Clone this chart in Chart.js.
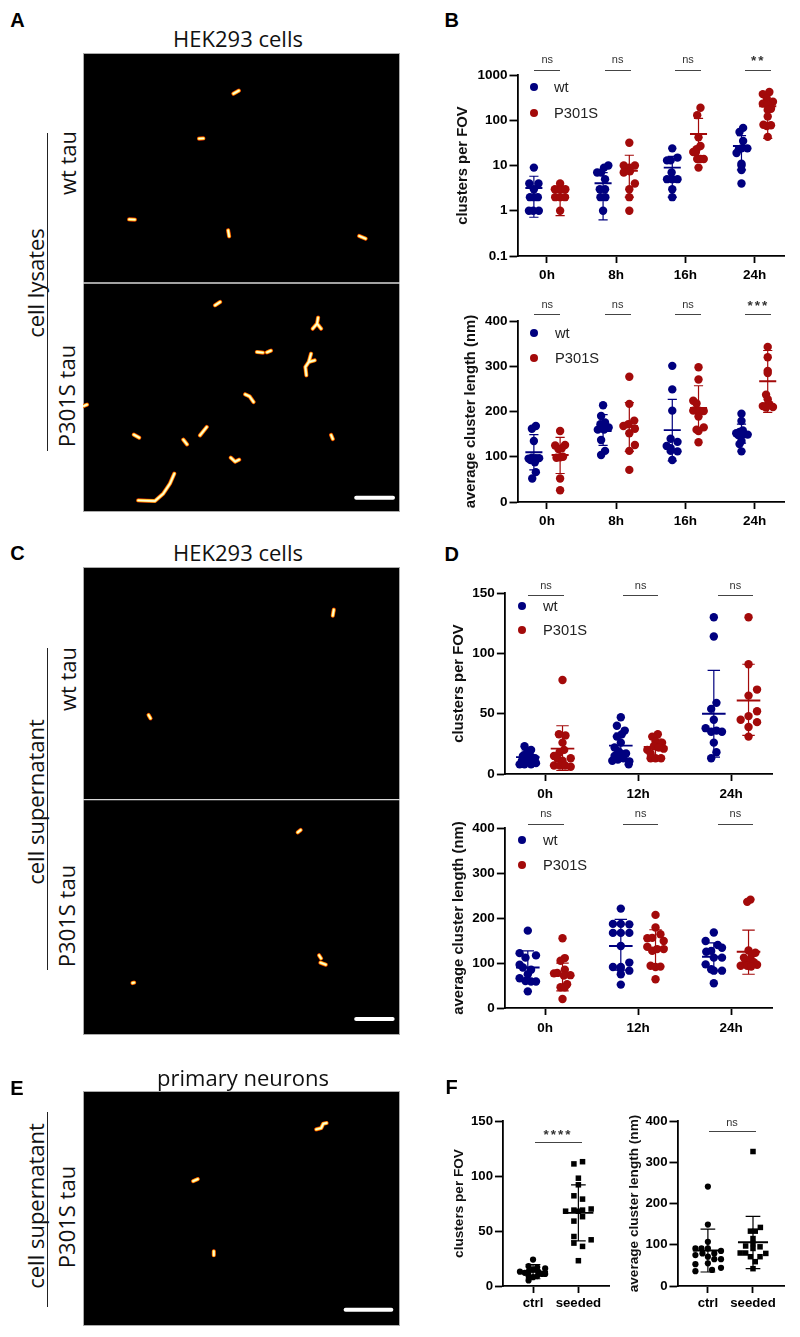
<!DOCTYPE html>
<html><head><meta charset="utf-8">
<script src="https://cdn.jsdelivr.net/npm/chart.js@4"></script>
<style>
html,body{margin:0;padding:0;background:#fff;}
#page{position:relative;width:800px;height:1337px;overflow:hidden;font-family:"Liberation Sans",Arial,sans-serif;}
.abs{position:absolute;white-space:nowrap;}
.c{transform:translate(-50%,-50%);}
.rot{transform:translate(-50%,-50%) rotate(-90deg);}
.cal{font-family:"Open Sans",sans-serif;color:#111;}
.let{font-weight:700;font-size:20px;color:#000;}
.ns{font-size:11px;color:#333;}
.bar{background:#444;height:1px;}
.vl{background:#222;width:1px;}
.leg{font-size:14.7px;color:#222;transform:translateY(-50%);}
.dot{width:8px;height:8px;border-radius:50%;margin:-4px 0 0 -4px;}
canvas{position:absolute;display:block;}
.panel{position:absolute;background:#000;outline:1px solid #aaa;outline-offset:-1px;}
</style></head><body><div id="page"></div>
<script>
// ---------- panel B, clusters per FOV ----------
const bTimes=['0h','8h','16h','24h'];
const b1Ticks=[0.1,1,10,100,1000];
const b1Wt0=[[0,9],[-14,4],[14,4],[0,3],[-12,2],[0,2],[12,2],[-15,1],[-2,1],[15,1]];
const b1Wt8=[[16,10],[3,9],[-18,7],[-6,7],[6,5],[-10,3],[6,3],[-8,2],[7,2],[0,1]];
const b1Wt16=[[0,24],[16,15],[-16,13],[-5,13],[-2,7],[-16,5],[0,5],[16,5],[0,3],[0,2]];
const b1Wt24=[[5,68],[-6,55],[5,35],[0,24],[18,24],[-8,23],[-15,19],[0,11],[0,10],[0,8],[0,4]];
const b1P0=[[0,4],[-16,3],[-5,3],[5,3],[16,3],[-15,2],[0,2],[15,2],[0,1]];
const b1P8=[[0,32],[-17,10],[17,10],[0,9],[-17,7],[2,7.5],[17,4],[0,3],[0,2],[0,1]];
const b1P16=[[6,190],[-4,130],[0,42],[6,27],[-6,23],[-16,20],[-8,20],[-4,14],[6,14],[16,14],[0,9]];
const b1P24=[[5,425],[-15,380],[-3,310],[16,258],[-15,234],[0,215],[10,180],[0,170],[0,122],[-13,80],[-3,75],[10,78],[0,43]];
const b1WtMean=[3.2,4.05,9,27], b1WtHi=[5.8,7,16,46], b1WtLo=[0.72,0.63,2,8];
const b1PMean=[2.1,7.7,50,205], b1PHi=[3,16.9,110,370], b1PLo=[0.78,2,14,40];
const b1Sig=['ns','ns','ns','**'];
// ---------- panel B, average cluster length ----------
const b2Ticks=[0,100,200,300,400];
const b2Wt0=[[6,168],[-6,162],[0,135],[-16,96],[-6,98],[6,97],[16,97],[-10,93],[3,88],[6,66],[-5,52]];
const b2Wt8=[[0,214],[-6,190],[6,176],[-8,172],[17,165],[-16,160],[3,160],[-6,137],[6,113],[-6,104]];
const b2Wt16=[[0,301],[0,249],[0,202],[-5,140],[16,133],[-17,124],[-5,119],[-5,113],[16,112],[0,93]];
const b2Wt24=[[0,195],[0,179],[-6,155],[4,158],[-16,152],[19,149],[-10,148],[8,150],[-6,128],[0,135],[0,112]];
const b2P0=[[0,157],[-15,125],[15,126],[-5,117],[5,119],[-11,98],[9,100],[0,99],[0,52],[0,26]];
const b2P8=[[0,277],[0,217],[15,180],[-3,172],[-18,168],[17,162],[0,152],[17,126],[0,113],[0,71]];
const b2P16=[[0,298],[0,271],[-16,224],[-6,218],[-16,202],[16,201],[2,202],[0,189],[16,165],[0,157],[-6,160],[0,132]];
const b2P24=[[0,343],[0,320],[0,290],[0,285],[-5,237],[0,227],[-5,212],[-15,212],[16,210],[5,216],[-5,209]];
const b2WtMean=[110,157,159,152], b2WtHi=[149,193,227,172], b2WtLo=[71,125,91,130];
const b2PMean=[104,168,208,267], b2PHi=[143,220,257,335], b2PLo=[63,112,160,198];
const b2Sig=['ns','ns','ns','***'];
// ---------- panel D, clusters per FOV ----------
const dTimes=['0h','12h','24h'];
const d1Ticks=[0,50,100,150];
const d1Wt0=[[-10,23],[10,20],[-2,18],[-15,15],[5,16],[-8,14],[12,14],[22,13],[0,13],[-18,11],[16,11],[-25,8],[-10,8],[10,8],[25,9],[2,10]];
const d1Wt12=[[0,47],[-12,40],[12,36],[-12,31],[3,33],[0,26],[-19,22],[16,17],[-19,15],[1,17],[-8,19],[-26,11],[-9,12],[8,13],[26,10.5],[24,8]];
const d1Wt24=[[8,59],[-8,54],[0,45],[-25,38],[-8,35],[8,36],[25,35],[0,26],[8,18],[-8,13],[0,130],[0,114]];
const d1P0=[[0,78],[-11,33],[9,32],[0,26],[5,20],[-9,18],[-26,15],[-16,13],[25,13],[0,11],[-26,7],[-8,7],[8,7],[25,6]];
const d1P12=[[7,33],[-10,31],[0,27],[20,26],[-25,20],[25,21],[-5,23],[10,22],[-15,13],[0,13],[17,13],[-15,17]];
const d1P24=[[0,130],[0,91],[26,70],[0,65],[26,52],[0,48],[-24,45],[26,43],[0,39],[0,31]];
const d1WtMean=[14,23.5,50], d1WtHi=[19,34,86], d1WtLo=[9,13,14];
const d1PMean=[21,22.5,61], d1PHi=[40,29,91], d1PLo=[3,15,32];
const dSig=['ns','ns','ns'];
// ---------- panel D, average cluster length ----------
const d2Ticks=[0,100,200,300,400];
const d2Wt0=[[0,172],[-25,122],[25,117],[-7,112],[-25,96],[-15,90],[10,85],[0,75],[-25,66],[-7,60],[10,59],[25,59],[0,37]];
const d2Wt12=[[0,221],[-24,187],[0,187],[26,186],[-24,167],[0,167],[26,167],[0,138],[26,101],[-24,91],[0,91],[-1,87],[26,83],[0,75],[0,52]];
const d2Wt24=[[0,168],[-25,149],[12,140],[25,134],[-8,127],[-23,125],[0,112],[25,112],[-25,97],[-8,86],[0,83],[25,83],[0,55]];
const d2P0=[[0,155],[7,111],[-6,105],[7,85],[-26,77],[-16,78],[24,73],[4,72],[14,53],[-6,46],[7,46],[0,20]];
const d2P12=[[0,207],[0,179],[15,164],[-25,155],[-10,156],[25,149],[-25,136],[-10,127],[5,131],[25,131],[-15,94],[0,91],[15,92],[0,64]];
const d2P24=[[6,241],[-4,236],[0,128],[21,123],[-24,94],[26,96],[-9,105],[6,108],[16,102],[-14,112],[11,120],[-4,94],[8,92]];
const d2WtMean=[90,138,114], d2WtHi=[127,197,145], d2WtLo=[64,84,83];
const d2PMean=[72,134,125], d2PHi=[100,174,173], d2PLo=[38,91,75];
// ---------- panel F ----------
const fGroups=['ctrl','seeded'];
const f1Ticks=[0,50,100,150];
const f2Ticks=[0,100,200,300,400];
const f1Ctrl=[[0,24],[-14,18],[13,17],[38,16],[0,15],[-41,13],[16,13],[-26,12],[-14,13],[38,11],[28,11],[-14,9],[13,9],[0,8],[-14,5]];
const f1Seed=[[13,113],[-14,111],[0,98],[0,92],[-14,82],[13,79],[40,70],[-14,69],[13,69],[-40,68],[0,68],[13,63],[-14,59],[-14,45],[40,42],[-14,39],[13,36],[0,23]];
const f2Ctrl=[[0,241],[0,149],[0,107],[-39,91],[-20,91],[0,91],[41,85],[20,79],[-39,75],[-17,79],[0,71],[41,65],[20,65],[-39,53],[0,55],[41,44],[13,39],[-39,36]];
const f2Seed=[[0,326],[23,142],[-8,133],[7,133],[0,115],[0,103],[-23,97],[22,95],[0,91],[-40,80],[-23,80],[40,79],[22,71],[-8,71],[7,59],[0,42]];
const f1Mean=[13,66.5], f1Hi=[19.5,92], f1Lo=[6.6,41];
const f2Mean=[86,106], f2Hi=[138,169], f2Lo=[34,42];
const fSig1=['****'], fSig2=['ns'];
// ---------- micrograph streaks, in image pixels of each panel ----------
const aStreaks=[[[700,280],[716,271]],[[597,415],[610,414]],[[388,657],[405,658]],[[684,690],[687,708]],[[1076,707],[1095,715]],[[645,915],[660,905]],[[937,985],[950,970],[962,985]],[[950,970],[953,952]],[[770,1055],[788,1057]],[[800,1056],[812,1051]],[[918,1125],[915,1100],[925,1085],[943,1080]],[[925,1085],[932,1060]],[[735,1182],[748,1188],[760,1205]],[[252,1217],[262,1213]],[[402,1303],[418,1312]],[[600,1305],[620,1280]],[[550,1318],[561,1332]],[[992,1304],[997,1316]],[[692,1372],[705,1384],[717,1378]],[[415,1500],[465,1502],[490,1480],[510,1450],[523,1420]]];
const cStreaks=[[[1000,240],[997,258]],[[446,556],[452,566]],[[892,908],[901,901]],[[956,1277],[962,1286]],[[960,1299],[976,1305]],[[398,1360],[403,1359]]];
const eStreaks=[[[947,239],[962,235],[968,222],[978,220]],[[578,394],[592,388]],[[640,604],[640,616]]];

const NAVY='#00007f', RED='#a30a0a', BLACK='#000';
const page=document.getElementById('page');
const FONT='"Liberation Sans",Arial,sans-serif';
Chart.defaults.animation=false;
Chart.defaults.font.family=FONT;

function el(cls,css,text){const d=document.createElement('div');d.className='abs '+cls;Object.assign(d.style,css);if(text!=null)d.textContent=text;page.appendChild(d);return d;}
function txt(cls,x,y,text,size){const css={left:x+'px',top:y+'px'};if(size)css.fontSize=size+'px';return el(cls,css,text);}
function hbar(x0,x1,y){el('bar',{left:x0+'px',top:(y-0.5)+'px',width:(x1-x0)+'px'});}
function vbar(x,y0,y1){el('vl',{left:x+'px',top:y0+'px',height:(y1-y0)+'px'});}

function summary(centers,mean,hi,lo,mw,cw){
  const bars=[],whisk=[];const gap={x:NaN,y:NaN};
  centers.forEach((c,i)=>{
    bars.push({x:c-mw,y:mean[i]},{x:c+mw,y:mean[i]},gap);
    whisk.push({x:c,y:hi[i]},{x:c,y:lo[i]},gap,{x:c-cw,y:hi[i]},{x:c+cw,y:hi[i]},gap,{x:c-cw,y:lo[i]},{x:c+cw,y:lo[i]},gap);
  });
  return [bars,whisk];
}
function series(groups,centers,color,style,r,mean,hi,lo,mw,cw){
  const pts=[];groups.forEach((g,i)=>g.forEach(p=>pts.push({x:centers[i]+p[0],y:p[1]})));
  const [bars,whisk]=summary(centers,mean,hi,lo,mw,cw);
  return [
   {data:pts,pointStyle:style,pointRadius:r,pointBackgroundColor:color,pointBorderWidth:0,showLine:false,clip:false},
   {data:whisk,showLine:true,pointRadius:0,borderColor:color,borderWidth:1.2,spanGaps:false,clip:false},
   {data:bars,showLine:true,pointRadius:0,borderColor:color,borderWidth:1.9,spanGaps:false,clip:false}
  ];
}
// Units on every x axis are one third of a pixel, so swarm offsets read directly.
function plot(g,labels,yTicks,log,datasets,sizes){
  const cv=document.createElement('canvas');
  const titleSize=sizes.title, left=g.titleX-titleSize*0.6, top=g.yTop-10, H=30;
  const w=g.right-left, h=g.yBottom-top+H;
  cv.width=w;cv.height=h;cv.style.left=left+'px';cv.style.top=top+'px';page.appendChild(cv);
  const tickFont={family:FONT,size:sizes.tick,weight:'700'};
  new Chart(cv,{type:'scatter',data:{datasets},options:{responsive:false,devicePixelRatio:1,
    layout:{padding:{top:10,left:0,right:0,bottom:0}},
    plugins:{legend:{display:false},tooltip:{enabled:false}},
    scales:{
      x:{type:'linear',min:(g.axisX-g.tick0)*3,max:(g.right-g.tick0)*3,
        afterFit(s){s.height=H;},
        afterBuildTicks(s){s.ticks=labels.map((_,i)=>({value:i*g.step}));},
        grid:{drawOnChartArea:false,drawTicks:true,tickLength:7,tickColor:'#000',tickWidth:1.8},
        border:{color:'#000',width:1.8},
        ticks:{color:'#000',font:tickFont,padding:g.xPad,maxRotation:0,autoSkip:false,callback:(v,i)=>labels[i]}},
      y:{type:log?'logarithmic':'linear',min:yTicks[0],max:yTicks[yTicks.length-1],
        afterFit(s){s.width=g.axisX-left;},
        afterBuildTicks(s){s.ticks=yTicks.map(v=>({value:v}));},
        grid:{drawOnChartArea:false,drawTicks:true,tickLength:8,tickColor:'#000',tickWidth:1.8},
        border:{color:'#000',width:1.8},
        title:{display:true,text:g.title,color:'#111',font:{family:FONT,size:titleSize,weight:'700'},padding:0},
        ticks:{color:'#000',font:tickFont,padding:2,autoSkip:false,callback:v=>String(v)}}
    }}});
}
const S={tick:13.5,title:14.8}, SF={tick:13.2,title:13.6};
const DOT=4.2, FDOT=3.1, FSQ=3.9;
function centers(n,step,side){return Array.from({length:n},(_,i)=>i*step+side);}
function stars(n){n.style.fontSize='13.5px';n.style.fontWeight='700';n.style.letterSpacing='2px';}
function sig(labels,x0,step,half,yT,yL){
  labels.forEach((t,i)=>{const c=x0+i*step;
    hbar(c-half,c+half,yL);
    const n=txt('ns c',c,yT+(t==='ns'?0:1),t);
    if(t!=='ns')stars(n);
  });
}
function legend(dotX,y1,y2,textX){
  el('dot',{left:dotX+'px',top:y1+'px',background:NAVY});
  el('dot',{left:dotX+'px',top:y2+'px',background:RED});
  el('leg',{left:textX+'px',top:y1+'px'},'wt');
  el('leg',{left:textX+'px',top:y2+'px'},'P301S');
}

// B
const bG={axisX:517.3,tick0:547.3,step:211,right:789,xPad:4};
const bWtC=centers(4,211,-40), bPC=centers(4,211,40);
plot({...bG,titleX:462.7,title:'clusters per FOV',yTop:75.3,yBottom:256.7},bTimes,b1Ticks,true,
 [...series([b1Wt0,b1Wt8,b1Wt16,b1Wt24],bWtC,NAVY,'circle',DOT,b1WtMean,b1WtHi,b1WtLo,26,14),
  ...series([b1P0,b1P8,b1P16,b1P24],bPC,RED,'circle',DOT,b1PMean,b1PHi,b1PLo,26,14)],S);
plot({...bG,titleX:470.7,title:'average cluster length (nm)',yTop:321,yBottom:502.3},bTimes,b2Ticks,false,
 [...series([b2Wt0,b2Wt8,b2Wt16,b2Wt24],bWtC,NAVY,'circle',DOT,b2WtMean,b2WtHi,b2WtLo,26,14),
  ...series([b2P0,b2P8,b2P16,b2P24],bPC,RED,'circle',DOT,b2PMean,b2PHi,b2PLo,26,14)],S);
sig(b1Sig,547.3,70.35,13,59.3,70.7);
sig(b2Sig,547.3,70.35,13,304,314.7);
legend(533.7,87.3,112.7,554);
legend(534.3,333.3,358,555);
// D
const dG={axisX:505,tick0:546,step:284,right:777.7,xPad:5.5};
const dWtC=centers(3,284,-53), dPC=centers(3,284,53);
plot({...dG,titleX:459,title:'clusters per FOV',yTop:593.3,yBottom:774.3},dTimes,d1Ticks,false,
 [...series([d1Wt0,d1Wt12,d1Wt24],dWtC,NAVY,'circle',DOT,d1WtMean,d1WtHi,d1WtLo,36,19),
  ...series([d1P0,d1P12,d1P24],dPC,RED,'circle',DOT,d1PMean,d1PHi,d1PLo,36,19)],S);
plot({...dG,titleX:459,title:'average cluster length (nm)',yTop:828.3,yBottom:1009},dTimes,d2Ticks,false,
 [...series([d2Wt0,d2Wt12,d2Wt24],dWtC,NAVY,'circle',DOT,d2WtMean,d2WtHi,d2WtLo,36,19),
  ...series([d2P0,d2P12,d2P24],dPC,RED,'circle',DOT,d2PMean,d2PHi,d2PLo,36,19)],S);
sig(dSig,546,94.67,17.67,585,595.7);
sig(dSig,546,94.67,17.67,813.3,824.3);
legend(522.3,605.7,630,543);
legend(522.3,840.3,865,543);
// F
plot({axisX:503.3,tick0:534.7,step:142,right:614,xPad:2.5,titleX:459.5,title:'clusters per FOV',yTop:1121,yBottom:1286.3},fGroups,f1Ticks,false,
 [{data:f1Ctrl.map(p=>({x:p[0],y:p[1]})),pointStyle:'circle',pointRadius:FDOT,pointBackgroundColor:BLACK,pointBorderWidth:0,showLine:false,clip:false},
  {data:f1Seed.map(p=>({x:142+p[0],y:p[1]})),pointStyle:'rect',pointRadius:FSQ,pointBackgroundColor:BLACK,pointBorderWidth:0,showLine:false,clip:false},
  ...series([],centers(2,142,0),BLACK,'circle',0,f1Mean,f1Hi,f1Lo,47,23)],SF);
plot({axisX:677.3,tick0:709,step:141,right:788.3,xPad:2.5,titleX:634,title:'average cluster length (nm)',yTop:1120.7,yBottom:1286},fGroups,f2Ticks,false,
 [{data:f2Ctrl.map(p=>({x:p[0],y:p[1]})),pointStyle:'circle',pointRadius:FDOT,pointBackgroundColor:BLACK,pointBorderWidth:0,showLine:false,clip:false},
  {data:f2Seed.map(p=>({x:141+p[0],y:p[1]})),pointStyle:'rect',pointRadius:FSQ,pointBackgroundColor:BLACK,pointBorderWidth:0,showLine:false,clip:false},
  ...series([],centers(2,141,0),BLACK,'circle',0,f2Mean,f2Hi,f2Lo,47,23)],SF);
hbar(534.7,582,1142.3); stars(txt('ns c',558,1134,fSig1[0]));
hbar(709,756,1131.7); txt('ns c',732,1121.7,fSig2[0]);

// Micrographs: image-pixel scales that fill the whole panel
function flatten(list){const o=[];list.forEach(s=>{s.forEach(p=>o.push({x:p[0],y:p[1]}));o.push({x:NaN,y:NaN});});return o;}
function micrograph(box,xr,yr,streaks,extra){
  const cv=document.createElement('canvas');cv.width=box.w;cv.height=box.h;
  const d=document.createElement('div');d.className='panel';Object.assign(d.style,{left:box.x+'px',top:box.y+'px',width:box.w+'px',height:box.h+'px'});
  cv.style.left='0';cv.style.top='0';d.appendChild(cv);page.appendChild(d);
  const line=(data,color,w)=>({data,showLine:true,pointRadius:0,borderColor:color,borderWidth:w,borderCapStyle:'round',borderJoinStyle:'round',spanGaps:false});
  const f=()=>flatten(streaks);
  // the first dataset paints last, so the hot core comes first
  new Chart(cv,{type:'scatter',data:{datasets:[
    line(f(),'#fffbe0',1.4),line(f(),'#ffe860',2.4),line(f(),'#ff9a00',3.4),line(f(),'#c81e00',4.2),...extra.map(e=>line(flatten(e[0]),e[1],e[2]))]},
    options:{responsive:false,devicePixelRatio:1,layout:{padding:0},plugins:{legend:{display:false},tooltip:{enabled:false}},
     scales:{x:{display:false,type:'linear',min:xr[0],max:xr[1]},y:{display:false,type:'linear',reverse:true,min:yr[0],max:yr[1]}}}});
}
micrograph({x:83,y:52.5,w:317,h:459.5},[250,1198],[158,1535],aStreaks,[[[[[250,848],[1198,848]]],'#d8d8d8',1.3],[[[[1067,1492],[1177,1492]]],'#fff',4]]);
micrograph({x:83,y:567,w:317,h:467.5},[250,1198],[112,1513],cStreaks,[[[[[250,810],[1198,810]]],'#d8d8d8',1.3],[[[[1067,1468],[1176,1468]]],'#fff',4]]);
micrograph({x:82.5,y:1091,w:317,h:235},[248,1198],[124,828],eStreaks,[[[[[1035,779],[1172,779]]],'#fff',4]]);

// labels
const CAP=22;
txt('cal c',238,38,'HEK293 cells',CAP);
txt('cal c',238,552.2,'HEK293 cells',CAP);
txt('cal c',243,1076.7,'primary neurons',CAP);
txt('cal rot',35,282.7,'cell lysates',CAP);
txt('cal rot',66.7,163,'wt tau',CAP);
txt('cal rot',65.7,396,'P301S tau',CAP);
vbar(47.3,133,451);
txt('cal rot',35,801.7,'cell supernatant',CAP);
txt('cal rot',66.7,679,'wt tau',CAP);
txt('cal rot',65.7,916,'P301S tau',CAP);
vbar(47.3,647.7,970);
txt('cal rot',35,1206,'cell supernatant',CAP);
txt('cal rot',65.7,1217,'P301S tau',CAP);
vbar(47.3,1112.3,1307.3);
txt('let c',17.5,19.5,'A'); txt('let c',451.7,20,'B'); txt('let c',17.5,553,'C');
txt('let c',451.7,553.5,'D'); txt('let c',17,1087.7,'E'); txt('let c',451.5,1086.7,'F');
</script></body></html>
